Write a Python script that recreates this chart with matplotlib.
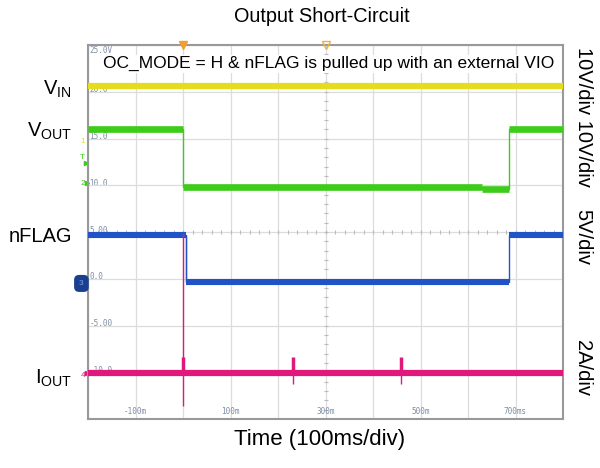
import matplotlib
matplotlib.use("Agg")
import matplotlib.pyplot as plt
import numpy as np

plt.rcParams["font.family"] = ["Liberation Sans", "DejaVu Sans"]
plt.rcParams["mathtext.fontset"] = "custom"
plt.rcParams["mathtext.rm"] = "Liberation Sans"

# screen units: 5 per division, time in ms
vin_times = [-200, 800]
vin_levels = [20.6]

vout_times = [-200, 0, 629, 686, 800]
vout_levels = [16.0, 9.8, 9.65, 16.0]

nflag_times = [-200, 6, 686, 800]
nflag_levels = [4.7, -0.3, 4.7]

iout_times = [-200, 800]
iout_levels = [-10.1]
spike_times = [0, 232, 459]
spike_tops = [4.9, -8.6, -8.6]
spike_bottoms = [-13.6, -11.3, -11.3]
blip_tops = [-8.4, -8.4, -8.4]

volt_labels = ["25.0V", "20.0", "15.0", "10.0", "5.00", "0.0", "-5.00", "-10.0"]
volt_label_pos = [25, 20, 15, 10, 5, 0, -5, -10]
time_labels = ["-100m", "100m", "300m", "500m", "700ms"]
time_label_pos = [-100, 100, 300, 500, 700]

YELLOW = "#e4dc1c"
GREEN = "#3dcc1a"
BLUE = "#2153c8"
MAGENTA = "#e0187c"
SCOPE_TXT = "#7d8ca3"

fig = plt.figure(figsize=(6, 4.68), dpi=100)
W, H = 600, 468
ax = fig.add_axes([88 / W, 1 - 419 / H, 475 / W, 374 / H])
ax.set_xlim(-200, 800)
ax.set_ylim(-15, 25)
ax.set_xticks(range(-200, 801, 100))
ax.set_yticks(range(-15, 26, 5))
ax.grid(color="#dcdcdc", lw=0.9)
ax.tick_params(length=0, labelbottom=False, labelleft=False)
for sp in ax.spines.values():
    sp.set_color("#999999")
    sp.set_linewidth(1.5)

# center axes minor ticks
ax.plot(np.arange(-200, 801, 20), np.full(51, 5.0), ls="none", marker="|", ms=3, color="#bbbbbb", mew=0.8)
ax.plot(np.full(41, 300.0), np.arange(-15, 25.1, 1), ls="none", marker="_", ms=3, color="#bbbbbb", mew=0.8)

# scope labels
for lab, y in zip(volt_labels, volt_label_pos):
    va = "top" if y == 25 else "center"
    yy = 24.9 if y == 25 else y + 0.2
    ax.text(-197, yy, lab, family="DejaVu Sans Mono", fontsize=5.5, color=SCOPE_TXT, va=va, ha="left", zorder=1)
for lab, t in zip(time_labels, time_label_pos):
    ax.text(t, -14.2, lab, family="DejaVu Sans Mono", fontsize=5.5, color=SCOPE_TXT, va="center", ha="center")


def trace(times, levels, color, lw):
    ax.stairs(levels, times, baseline=None, color=color, lw=1.0, zorder=3)
    ax.hlines(levels, times[:-1], times[1:], color=color, lw=lw, zorder=3)


trace(vin_times, vin_levels, YELLOW, 4.5)
trace(vout_times, vout_levels, GREEN, 4.8)
ax.vlines(6, nflag_levels[1], nflag_levels[0], color="#7f8fb8", lw=1.0, zorder=3)
trace(nflag_times, nflag_levels, BLUE, 4.4)
trace(iout_times, iout_levels, MAGENTA, 4.5)
ax.vlines(spike_times, spike_bottoms, spike_tops, color=MAGENTA, lw=1.0, zorder=4)
ax.vlines(spike_times, iout_levels[0], blip_tops, color=MAGENTA, lw=2.5, zorder=4)

# trigger markers
ax.plot(0, 25, marker="v", ms=6, color="#f0a030", clip_on=False, zorder=5)
ax.plot(300, 25, marker="v", ms=6, mfc="none", mec="#f0b040", clip_on=False, zorder=5)

# channel markers at left edge
ax.text(-206, 14.7, "1", color=YELLOW, fontsize=6, ha="right", va="center", clip_on=False)
ax.text(-207, 13.0, "T", color=GREEN, fontsize=6, ha="right", va="center", clip_on=False)
ax.plot(-204, 12.4, marker=">", ms=3, color=GREEN, clip_on=False)
ax.text(-206, 10.2, "2", color=GREEN, fontsize=6, ha="right", va="center", clip_on=False)
ax.plot(-203, 10.2, marker=">", ms=3, color=GREEN, clip_on=False)
ax.text(-209, -0.5, "3", color="#7fa0e0", fontsize=6, ha="right", va="center", clip_on=False,
        bbox=dict(boxstyle="round,pad=0.6", fc="#1a3f8f", ec="none"))
ax.text(-206, -10.3, "4", color=MAGENTA, fontsize=6, ha="right", va="center", clip_on=False)
ax.plot(-203, -10.1, marker=">", ms=3, color=MAGENTA, clip_on=False)

ax.text(307, 23.0, "OC_MODE = H & nFLAG is pulled up with an external VIO", fontsize=12.5,
        ha="center", va="center", zorder=6, bbox=dict(fc="white", ec="none", pad=1))

# figure labels
fig.text(322 / W, 1 - 17 / H, "Output Short-Circuit", fontsize=14.3, ha="center", va="center")
fig.text(320 / W, 1 - 440 / H, "Time (100ms/div)", fontsize=16, ha="center", va="center")
fig.text(72 / W, 1 - 95 / H, r"V$_{\mathrm{IN}}$", fontsize=14.5, ha="right", va="baseline")
fig.text(72 / W, 1 - 137 / H, r"V$_{\mathrm{OUT}}$", fontsize=14.5, ha="right", va="baseline")
fig.text(72 / W, 1 - 242 / H, "nFLAG", fontsize=14.5, ha="right", va="baseline")
fig.text(72 / W, 1 - 384 / H, r"I$_{\mathrm{OUT}}$", fontsize=14.5, ha="right", va="baseline")
fig.text(583 / W, 1 - 117 / H, "10V/div 10V/div", fontsize=14.5, rotation=-90, ha="center", va="center")
fig.text(583 / W, 1 - 237 / H, "5V/div", fontsize=14.5, rotation=-90, ha="center", va="center")
fig.text(583 / W, 1 - 368 / H, "2A/div", fontsize=14.5, rotation=-90, ha="center", va="center")

fig.savefig("out.png", dpi=100)
